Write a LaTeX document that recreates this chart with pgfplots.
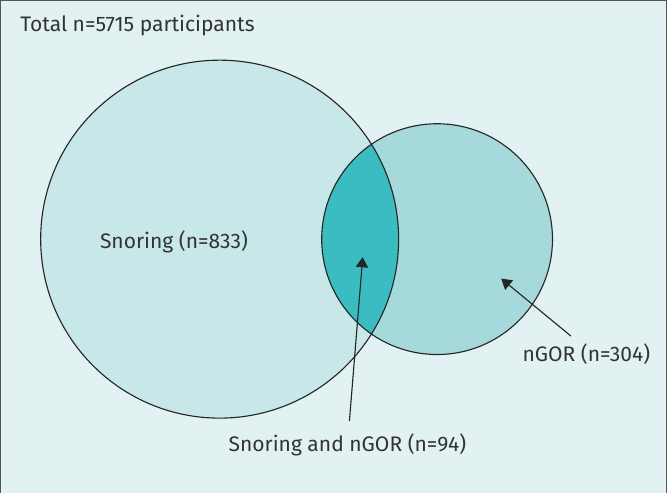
\documentclass[border=0pt]{standalone}
\usepackage{pgfplots}
\pgfplotsset{compat=1.18}
\usepackage{fontspec}
\setmainfont{Fira Sans}
\usetikzlibrary{arrows.meta}
\definecolor{bg}{HTML}{E2F2F2}
\definecolor{big}{HTML}{C8E7E9}
\definecolor{small}{HTML}{A6D9DC}
\definecolor{lens}{HTML}{3BBCC0}
\definecolor{txt}{HTML}{333333}
\definecolor{frame}{HTML}{555555}
\begin{document}
\begin{tikzpicture}
\begin{axis}[width=667pt,height=488pt,scale only axis,
  xmin=0,xmax=667,ymin=0,ymax=488,y dir=reverse,
  hide axis,clip=false]
% background panel
\fill[bg] (axis cs:14,8) rectangle (axis cs:663,488);
\draw[frame,line width=1.3pt] (axis cs:14,488) -- (axis cs:14,8) -- (axis cs:663,8) -- (axis cs:663,488);
% snoring set
\fill[big] (axis cs:227.5,240.5) circle[radius=174.5];
% nGOR set
\fill[small] (axis cs:439.5,240.5) circle[radius=112.5];
% overlap
\begin{scope}
\clip (axis cs:227.5,240.5) circle[radius=174.5];
\fill[lens] (axis cs:439.5,240.5) circle[radius=112.5];
\end{scope}
\draw[black!85,line width=1.1pt] (axis cs:227.5,240.5) circle[radius=174.5];
\draw[black!85,line width=1.1pt] (axis cs:439.5,240.5) circle[radius=112.5];
% arrows
\addplot[black!85,line width=1.1pt,-{Triangle[length=10pt,width=12pt]}] coordinates {(354,418) (367,258)};
\addplot[black!85,line width=1.1pt,-{Triangle[length=10pt,width=12pt]}] coordinates {(570,335) (502,279)};
% labels
\node[txt,anchor=west,inner sep=0pt,font=\fontsize{20.5}{24}\selectfont] at (axis cs:33,32) {Total n=5715 participants};
\node[txt,inner sep=0pt,font=\fontsize{20.5}{24}\selectfont] at (axis cs:183,243) {Snoring (n=833)};
\node[txt,inner sep=0pt,font=\fontsize{20.5}{24}\selectfont] at (axis cs:352,441) {Snoring and nGOR (n=94)};
\node[txt,inner sep=0pt,font=\fontsize{20.5}{24}\selectfont] at (axis cs:585,353) {nGOR (n=304)};
\end{axis}
\end{tikzpicture}
\end{document}
